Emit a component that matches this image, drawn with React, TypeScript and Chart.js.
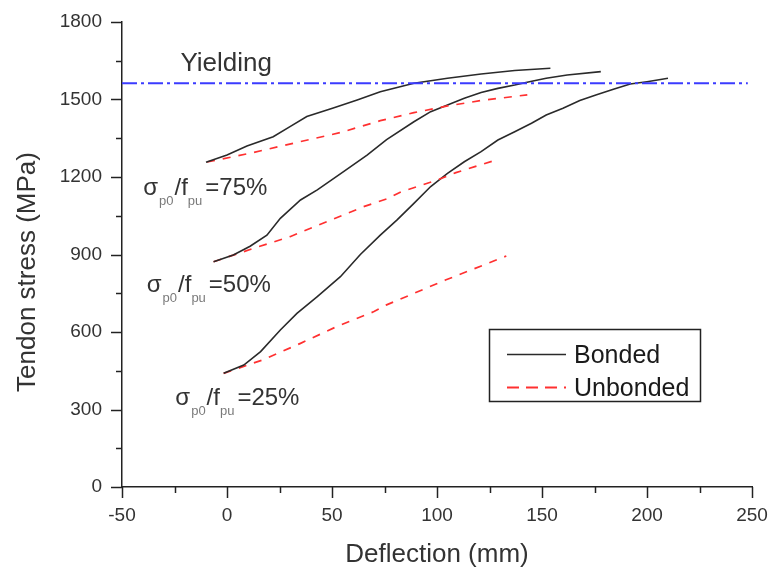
import { useEffect, useRef } from "react";
import { Chart, registerables } from "chart.js";

Chart.register(...registerables);

const FONT = '"Liberation Sans", Arial, Helvetica, sans-serif';
const TEXT_COLOR = "#333333";
const AXIS_COLOR = "#222222";
const BONDED_COLOR = "#2a2a2a";
const UNBONDED_COLOR = "#ff3030";
const YIELD_COLOR = "#3b3bff";

// Axis ranges and tick spacing
const X_MIN = -50;
const X_MAX = 250;
const X_MAJOR = 50;
const X_MINOR = 25;
const Y_MIN = 0;
const Y_MAX = 1800;
const Y_MAJOR = 300;
const Y_MINOR = 150;

// Yield stress of the tendon (MPa)
const yieldStress = 1563;
const yieldX = [-50, 248];

// sigma_p0 / f_pu = 75%
const bonded75X = [-10, 0, 9.5, 22, 30, 38, 50.6, 62, 73, 89, 105, 121, 137, 154];
const bonded75Y = [1257, 1285, 1320, 1356, 1395, 1434, 1467, 1498, 1530, 1563, 1582, 1599, 1612, 1621];
const unbonded75X = [-9.5, 11, 35, 54, 73, 89, 105, 121, 143];
const unbonded75Y = [1258, 1292, 1337, 1372, 1418, 1449, 1475, 1496, 1518];

// sigma_p0 / f_pu = 50%
const bonded50X = [-6.4, 3, 11, 19, 25.4, 35, 43, 55.5, 66.7, 76, 89, 97, 105, 113, 121, 129, 137, 144, 152, 162, 178];
const bonded50Y = [872, 898, 932, 975, 1040, 1111, 1150, 1221, 1285, 1345, 1414, 1453, 1479, 1505, 1527, 1543, 1556, 1569, 1582, 1595, 1608];
const unbonded50X = [-6.4, 12.7, 30, 47.6, 65, 76, 83, 93, 101, 109, 118, 129];
const unbonded50Y = [872, 924, 969, 1027, 1085, 1115, 1143, 1169, 1191, 1217, 1240, 1268];

// sigma_p0 / f_pu = 25%
const bonded25X = [-1.6, 8, 16, 25.4, 33.3, 43, 54, 63.5, 73, 81, 89, 97, 105, 113, 121, 129, 137, 145, 152, 160, 168, 176, 184, 192, 200, 210];
const bonded25Y = [440, 472, 524, 608, 672, 737, 814, 900, 975, 1034, 1098, 1163, 1214, 1259, 1298, 1343, 1375, 1408, 1440, 1466, 1496, 1518, 1540, 1560, 1569, 1582];
const unbonded25X = [-1.6, 17, 35, 52, 70, 76, 104, 133];
const unbonded25Y = [440, 492, 556, 620, 679, 705, 801, 894];

// Prestress ratio annotations, anchored in data coordinates (start of text, baseline)
const ratioNames = ["75%", "50%", "25%"];
const ratioAnchorX = [-39.9, -38.2, -24.6];
const ratioAnchorY = [1130, 755, 317];

const yieldText = "Yielding";
const yieldTextX = -22.2;
const yieldTextY = 1612;

const xTitle = "Deflection (mm)";
const yTitle = "Tendon stress (MPa)";
const legendNames = ["Bonded", "Unbonded"];

const toPoints = (xs: number[], ys: number[]) => xs.map((x, i) => ({ x, y: ys[i] }));

const bondedStyle = {
  borderColor: BONDED_COLOR,
  borderWidth: 1.6,
  pointRadius: 0,
  showLine: true,
  fill: false,
  tension: 0,
};
const unbondedStyle = {
  borderColor: UNBONDED_COLOR,
  borderWidth: 1.7,
  borderDash: [8, 8],
  pointRadius: 0,
  showLine: true,
  fill: false,
  tension: 0,
};

// Outward major and minor tick marks on the left and bottom axes
const axisTicksPlugin = {
  id: "axisTicks",
  afterDraw(chart: any) {
    const { ctx, chartArea } = chart;
    const x = chart.scales.x;
    const y = chart.scales.y;
    ctx.save();
    ctx.strokeStyle = AXIS_COLOR;
    ctx.lineWidth = 1.5;
    for (let v = X_MIN; v <= X_MAX; v += X_MINOR) {
      const px = Math.round(x.getPixelForValue(v)) + 0.5;
      const len = (v - X_MIN) % X_MAJOR === 0 ? 11 : 6;
      ctx.beginPath();
      ctx.moveTo(px, chartArea.bottom);
      ctx.lineTo(px, chartArea.bottom + len);
      ctx.stroke();
    }
    for (let v = Y_MIN; v <= Y_MAX; v += Y_MINOR) {
      const py = Math.round(y.getPixelForValue(v)) + 0.5;
      const len = (v - Y_MIN) % Y_MAJOR === 0 ? 11 : 6;
      ctx.beginPath();
      ctx.moveTo(chartArea.left, py);
      ctx.lineTo(chartArea.left - len, py);
      ctx.stroke();
    }
    ctx.restore();
  },
};

// Texts inside the plot: "Yielding" and the sigma_p0/f_pu ratios with subscripts
const annotationPlugin = {
  id: "annotations",
  afterDraw(chart: any) {
    const { ctx } = chart;
    const x = chart.scales.x;
    const y = chart.scales.y;
    ctx.save();
    ctx.textBaseline = "alphabetic";
    ctx.textAlign = "left";

    ctx.fillStyle = TEXT_COLOR;
    ctx.font = `26px ${FONT}`;
    ctx.fillText(yieldText, x.getPixelForValue(yieldTextX), y.getPixelForValue(yieldTextY));

    const mainFont = `24px ${FONT}`;
    const subFont = `13px ${FONT}`;
    ratioNames.forEach((name, i) => {
      let px = x.getPixelForValue(ratioAnchorX[i]);
      const base = y.getPixelForValue(ratioAnchorY[i]);
      const parts: [string, boolean, number][] = [
        ["σ", false, 1],
        ["p0", true, 1],
        ["/f", false, 0],
        ["pu", true, 3],
        ["=" + name, false, 0],
      ];
      parts.forEach(([txt, sub, gap]) => {
        ctx.font = sub ? subFont : mainFont;
        ctx.fillStyle = sub ? "#7a7a7a" : TEXT_COLOR;
        ctx.fillText(txt, px, sub ? base + 10 : base);
        px += ctx.measureText(txt).width + gap;
      });
    });

    // Rotated y axis title
    ctx.font = `26px ${FONT}`;
    ctx.fillStyle = TEXT_COLOR;
    ctx.textAlign = "center";
    ctx.textBaseline = "middle";
    ctx.translate(28, 272);
    ctx.rotate(-Math.PI / 2);
    ctx.fillText(yTitle, 0, 0);
    ctx.restore();
  },
};

// Boxed legend inside the plot area
const legendBoxPlugin = {
  id: "legendBox",
  afterDraw(chart: any) {
    const { ctx } = chart;
    ctx.save();
    ctx.strokeStyle = AXIS_COLOR;
    ctx.lineWidth = 1.5;
    ctx.strokeRect(489.5, 329.5, 211, 72);

    const rows = [354, 387];
    ctx.font = `25px ${FONT}`;
    ctx.textAlign = "left";
    ctx.textBaseline = "middle";
    rows.forEach((ry, i) => {
      ctx.beginPath();
      if (i === 0) {
        ctx.strokeStyle = BONDED_COLOR;
        ctx.lineWidth = 1.5;
        ctx.setLineDash([]);
      } else {
        ctx.strokeStyle = UNBONDED_COLOR;
        ctx.lineWidth = 1.8;
        ctx.setLineDash([12, 7]);
      }
      ctx.moveTo(507, ry + 0.5);
      ctx.lineTo(566, ry + 0.5);
      ctx.stroke();
      ctx.setLineDash([]);
      ctx.fillStyle = "#1a1a1a";
      ctx.fillText(legendNames[i], 574, ry + 2);
    });
    ctx.restore();
  },
};

const zeroPadding = (scale: any) => {
  scale.paddingLeft = 0;
  scale.paddingRight = 0;
  scale.paddingTop = 0;
  scale.paddingBottom = 0;
};

export default function App() {
  const canvasRef = useRef<HTMLCanvasElement | null>(null);

  useEffect(() => {
    const canvas = canvasRef.current;
    if (!canvas) return;

    const chart = new Chart(canvas, {
      type: "scatter",
      data: {
        datasets: [
          {
            label: "Yielding",
            data: toPoints(yieldX, yieldX.map(() => yieldStress)),
            borderColor: YIELD_COLOR,
            borderWidth: 1.8,
            borderDash: [15, 4, 3, 4],
            pointRadius: 0,
            showLine: true,
            fill: false,
          },
          { label: "Bonded 75%", data: toPoints(bonded75X, bonded75Y), ...bondedStyle },
          { label: "Unbonded 75%", data: toPoints(unbonded75X, unbonded75Y), ...unbondedStyle },
          { label: "Bonded 50%", data: toPoints(bonded50X, bonded50Y), ...bondedStyle },
          { label: "Unbonded 50%", data: toPoints(unbonded50X, unbonded50Y), ...unbondedStyle },
          { label: "Bonded 25%", data: toPoints(bonded25X, bonded25Y), ...bondedStyle },
          { label: "Unbonded 25%", data: toPoints(unbonded25X, unbonded25Y), ...unbondedStyle },
        ],
      },
      options: {
        animation: false,
        responsive: false,
        maintainAspectRatio: false,
        layout: { padding: { top: 22, right: 18, left: 0, bottom: 0 } },
        plugins: {
          legend: { display: false },
          tooltip: { enabled: false },
          title: { display: false },
        },
        scales: {
          x: {
            type: "linear",
            min: X_MIN,
            max: X_MAX,
            grid: { display: false, drawTicks: false },
            border: { display: true, color: AXIS_COLOR, width: 1.5 },
            ticks: {
              stepSize: X_MAJOR,
              autoSkip: false,
              maxRotation: 0,
              padding: 17,
              color: TEXT_COLOR,
              font: { family: FONT, size: 19 },
              callback: (v: any) => String(v),
            },
            title: {
              display: true,
              text: xTitle,
              color: TEXT_COLOR,
              font: { family: FONT, size: 26, lineHeight: 1.2 },
              padding: { top: 0, bottom: 0 },
            },
            afterFit: (scale: any) => {
              scale.height = 83;
              zeroPadding(scale);
            },
          },
          y: {
            type: "linear",
            min: Y_MIN,
            max: Y_MAX,
            grid: { display: false, drawTicks: false },
            border: { display: true, color: AXIS_COLOR, width: 1.5 },
            ticks: {
              stepSize: Y_MAJOR,
              autoSkip: false,
              padding: 20,
              color: TEXT_COLOR,
              font: { family: FONT, size: 19 },
              callback: (v: any) => String(v),
            },
            afterFit: (scale: any) => {
              scale.width = 122;
              zeroPadding(scale);
            },
          },
        },
      },
      plugins: [axisTicksPlugin, annotationPlugin, legendBoxPlugin],
    });

    return () => chart.destroy();
  }, []);

  return (
    <div style={{ position: "absolute", left: 0, top: 0, width: 770, height: 570, background: "#ffffff" }}>
      <canvas ref={canvasRef} width={770} height={570} />
    </div>
  );
}
